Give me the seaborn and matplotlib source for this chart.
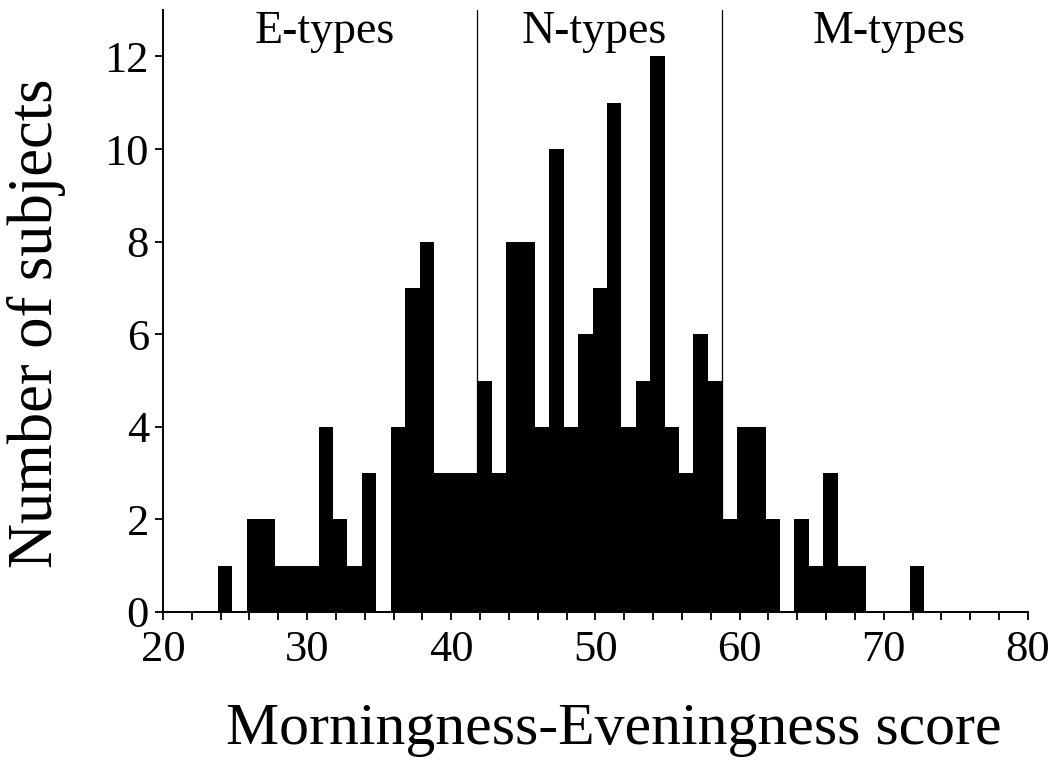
import numpy as np
import pandas as pd
import matplotlib
matplotlib.use("Agg")
import matplotlib.pyplot as plt
import seaborn as sns

# Morningness-Eveningness questionnaire scores and number of subjects per score
scores = list(range(24, 73))
counts = [1, 0, 2, 2, 1, 1, 1, 4, 2, 1, 3, 0, 4, 7, 8, 3, 3, 3,
          5, 3, 8, 8, 4, 10, 4, 6, 7, 11, 4, 5, 12, 4, 3, 6, 5,
          2, 4, 4, 2, 0, 2, 1, 3, 1, 1, 0, 0, 0, 1]
# first score of the N-type and M-type ranges
cutoffs = [42, 59]
type_labels = ["E-types", "N-types", "M-types"]
type_label_x = [31.2, 49.9, 70.4]
x_ticks = [20, 30, 40, 50, 60, 70, 80]
y_ticks = [0, 2, 4, 6, 8, 10, 12]

df = pd.DataFrame({"score": scores, "subjects": counts})

sns.set_theme(style="ticks")
plt.rcParams["font.family"] = ["Liberation Serif", "DejaVu Serif"]

fig = plt.figure(figsize=(10.54, 7.82), dpi=100)
ax = fig.add_axes([0.1546, 0.2174, 0.8207, 0.7696])

# each bin holds one integer score
bin_edges = [float(e) for e in np.arange(19.8, 80.8, 1.0)]
sns.histplot(data=df, x="score", weights="subjects", bins=bin_edges, ax=ax,
             color="black", alpha=1.0, linewidth=0, element="bars")

for c in cutoffs:
    ax.axvline(c - 0.2, ymin=0, ymax=1, color="black", linewidth=0.9)

for lbl, xpos in zip(type_labels, type_label_x):
    ax.text(xpos, 12.3, lbl, ha="center", va="baseline", fontsize=33,
            color="black")

ax.set_xlim(20, 80)
ax.set_ylim(0, 13)
ax.set_xticks(x_ticks)
ax.set_xticks(np.arange(20, 81, 2), minor=True)
ax.set_yticks(y_ticks)
ax.tick_params(axis="both", which="major", labelsize=32, length=6,
               width=1.3, direction="out", colors="black")
ax.tick_params(axis="y", which="major", pad=4)
ax.tick_params(axis="x", which="major", pad=7)
ax.tick_params(axis="x", which="minor", length=6, width=1.3,
               direction="out", colors="black")

for side in ["top", "right"]:
    ax.spines[side].set_visible(False)
for side in ["left", "bottom"]:
    ax.spines[side].set_linewidth(1.4)
    ax.spines[side].set_color("black")

ax.set_xlabel("Morningness-Eveningness score", fontsize=43, color="black")
ax.set_ylabel("Number of subjects", fontsize=45, color="black")
ax.xaxis.set_label_coords(0.521, -0.152)
ax.yaxis.set_label_coords(-0.112, 0.48)
ax.set_facecolor("white")
fig.patch.set_facecolor("white")

fig.savefig("out.png", dpi=100, facecolor="white")
